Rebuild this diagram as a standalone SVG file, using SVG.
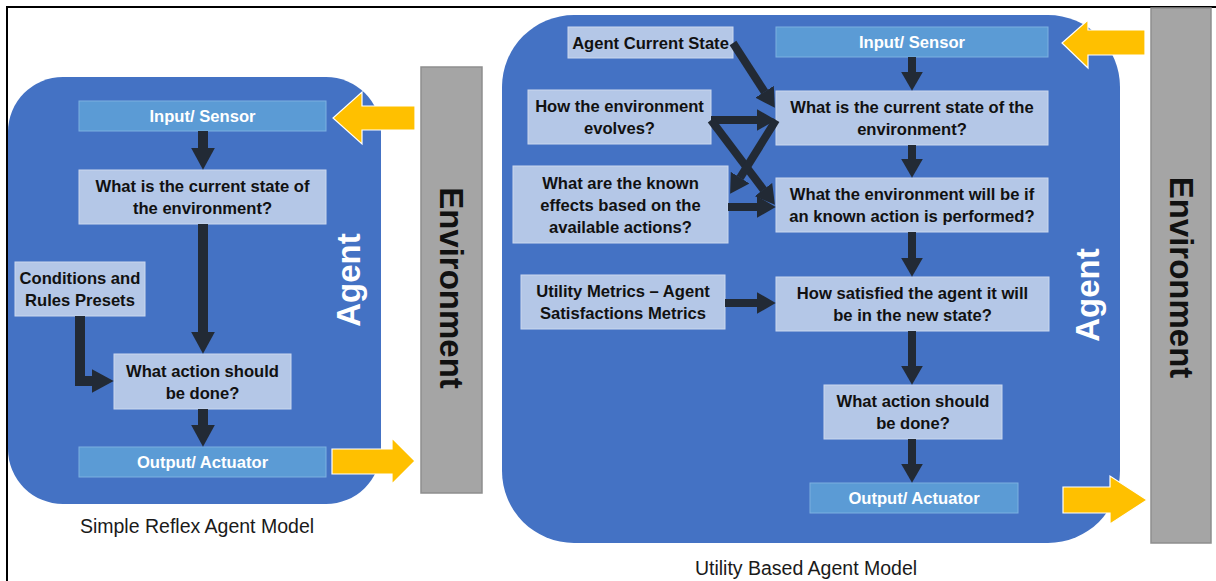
<svg xmlns="http://www.w3.org/2000/svg" width="1216" height="581" viewBox="0 0 1216 581">
  <defs>
    <style>
      .panel { fill: #4472C4; }
      .io { fill: #5B9BD5; stroke: #7DB0E0; stroke-width: 1; }
      .step { fill: #B4C7E7; stroke: #CBD8EE; stroke-width: 1; }
      .env { fill: #A5A5A5; stroke: #8E8E8E; stroke-width: 1.5; }
      .io-text { font-family: "Liberation Sans", Arial, sans-serif; font-weight: bold; font-size: 16.6px; fill: #FFFFFF; text-anchor: middle; }
      .step-text { font-family: "Liberation Sans", Arial, sans-serif; font-weight: bold; font-size: 16.6px; fill: #111111; text-anchor: middle; }
      .agent-text { font-family: "Liberation Sans", Arial, sans-serif; font-weight: bold; font-size: 33px; fill: #FFFFFF; text-anchor: middle; }
      .env-text { font-family: "Liberation Sans", Arial, sans-serif; font-weight: bold; font-size: 33px; fill: #111111; text-anchor: middle; }
      .caption { font-family: "Liberation Sans", Arial, sans-serif; font-size: 19.5px; fill: #1A1A1A; text-anchor: middle; }
      .flow-l { fill: none; stroke: #222A35; stroke-width: 10; stroke-linejoin: miter; marker-end: url(#headL); }
      .flow-r { fill: none; stroke: #222A35; stroke-width: 8; stroke-linejoin: miter; marker-end: url(#headR); }
      .signal { fill: #FFC000; stroke: #FFFFFF; stroke-width: 1.2; }
      .frame { fill: none; stroke: #000000; stroke-width: 2; }
    </style>
    <marker id="headL" markerUnits="userSpaceOnUse" viewBox="0 0 22 24" markerWidth="22" markerHeight="24" refX="0.3" refY="12" orient="auto">
      <path d="M0,0 L22,12 L0,24 z" fill="#222A35"/>
    </marker>
    <marker id="headR" markerUnits="userSpaceOnUse" viewBox="0 0 19 22" markerWidth="19" markerHeight="22" refX="0.3" refY="11" orient="auto">
      <path d="M0,0 L19,11 L0,22 z" fill="#222A35"/>
    </marker>
  </defs>

  <rect width="1216" height="581" fill="#FFFFFF"/>

  <!-- outer frame: top and left edges only -->
  <path class="frame" d="M7,581 V7 H1216"/>

  <!-- ===== Simple reflex agent ===== -->
  <g id="simple-agent">
    <rect class="panel" x="8" y="77" width="373" height="427" rx="55" ry="55"/>
    <text class="agent-text" transform="translate(348,280) rotate(-90)" y="11.8">Agent</text>
  </g>

  <g id="simple-environment">
    <rect class="env" x="421" y="67" width="61" height="426"/>
    <text class="env-text" transform="translate(452,288) rotate(90)" y="11.8">Environment</text>
  </g>

  <g id="simple-input">
    <rect class="io" x="79" y="101" width="247" height="30"/>
    <text class="io-text" x="202.5" y="122">Input/ Sensor</text>
  </g>

  <g id="simple-state">
    <rect class="step" x="79" y="170" width="247" height="54"/>
    <text class="step-text" x="202.5" y="192">What is the current state of</text>
    <text class="step-text" x="202.5" y="214">the environment?</text>
  </g>

  <g id="simple-rules">
    <rect class="step" x="15" y="262" width="130" height="54"/>
    <text class="step-text" x="80" y="284">Conditions and</text>
    <text class="step-text" x="80" y="306">Rules Presets</text>
  </g>

  <g id="simple-action">
    <rect class="step" x="114" y="354" width="177" height="55"/>
    <text class="step-text" x="202.5" y="376.5">What action should</text>
    <text class="step-text" x="202.5" y="398.5">be done?</text>
  </g>

  <g id="simple-output">
    <rect class="io" x="79" y="447" width="247" height="30"/>
    <text class="io-text" x="202.5" y="468">Output/ Actuator</text>
  </g>

  <g id="simple-caption">
    <text class="caption" x="197" y="533">Simple Reflex Agent Model</text>
  </g>

  <!-- ===== Utility based agent ===== -->
  <g id="utility-agent">
    <rect class="panel" x="502" y="15" width="618" height="528" rx="72" ry="72"/>
    <text class="agent-text" transform="translate(1087,295) rotate(-90)" y="11.8">Agent</text>
  </g>

  <g id="utility-environment">
    <rect class="env" x="1151" y="8" width="60" height="535"/>
    <text class="env-text" transform="translate(1181.5,277.5) rotate(90)" y="11.8">Environment</text>
  </g>

  <g id="utility-current">
    <rect class="step" x="568" y="27" width="165" height="31"/>
    <text class="step-text" x="650.5" y="48.5">Agent Current State</text>
  </g>

  <g id="utility-input">
    <rect class="io" x="776" y="27" width="272" height="30"/>
    <text class="io-text" x="912" y="48">Input/ Sensor</text>
  </g>

  <g id="utility-evolves">
    <rect class="step" x="528" y="90" width="183" height="54"/>
    <text class="step-text" x="619.5" y="112">How the environment</text>
    <text class="step-text" x="619.5" y="134">evolves?</text>
  </g>

  <g id="utility-state">
    <rect class="step" x="776" y="91" width="272" height="54"/>
    <text class="step-text" x="912" y="113">What is the current state of the</text>
    <text class="step-text" x="912" y="135">environment?</text>
  </g>

  <g id="utility-effects">
    <rect class="step" x="513" y="166" width="215" height="77"/>
    <text class="step-text" x="620.5" y="188.5">What are the known</text>
    <text class="step-text" x="620.5" y="210.5">effects based on the</text>
    <text class="step-text" x="620.5" y="232.5">available actions?</text>
  </g>

  <g id="utility-prediction">
    <rect class="step" x="776" y="178" width="272" height="54"/>
    <text class="step-text" x="912" y="200">What the environment will be if</text>
    <text class="step-text" x="912" y="222">an known action is performed?</text>
  </g>

  <g id="utility-metrics">
    <rect class="step" x="521" y="275" width="204" height="54"/>
    <text class="step-text" x="623" y="297">Utility Metrics – Agent</text>
    <text class="step-text" x="623" y="319">Satisfactions Metrics</text>
  </g>

  <g id="utility-satisfaction">
    <rect class="step" x="776" y="277" width="273" height="54"/>
    <text class="step-text" x="912.5" y="299">How satisfied the agent it will</text>
    <text class="step-text" x="912.5" y="321">be in the new state?</text>
  </g>

  <g id="utility-action">
    <rect class="step" x="824" y="385" width="178" height="54"/>
    <text class="step-text" x="913" y="407">What action should</text>
    <text class="step-text" x="913" y="429">be done?</text>
  </g>

  <g id="utility-output">
    <rect class="io" x="810" y="483" width="208" height="30"/>
    <text class="io-text" x="914" y="504">Output/ Actuator</text>
  </g>

  <g id="utility-caption">
    <text class="caption" x="806" y="575">Utility Based Agent Model</text>
  </g>

  <!-- ===== Connectors ===== -->
  <g id="connectors">
    <!-- simple reflex flow -->
    <path class="flow-l" d="M203,131 V148"/>
    <path class="flow-l" d="M203,224 V332"/>
    <path class="flow-l" d="M203,409 V425"/>
    <path class="flow-l" d="M80,316 V381 H92"/>

    <!-- utility flow -->
    <path class="flow-r" d="M912,57 V72"/>
    <path class="flow-r" d="M912,145 V159"/>
    <path class="flow-r" d="M912,232 V258"/>
    <path class="flow-r" d="M912,331 V366"/>
    <path class="flow-r" d="M912,439 V464"/>
    <path class="flow-r" d="M725,303 H757"/>
    <path class="flow-r" d="M733,43 L764.7,92"/>
    <path class="flow-r" d="M711,120 H757"/>
    <path class="flow-r" d="M711,120 L763.6,189.8"/>
    <path class="flow-r" d="M776,120 L740,177.9"/>
    <path class="flow-r" d="M728,207 H757"/>

    <!-- environment signals -->
    <polygon class="signal" points="415,106 362,106 362,92 333,118 362,144 362,130 415,130"/>
    <polygon class="signal" points="332,449 392,449 392,438 415,461 392,484 392,474 332,474"/>
    <polygon class="signal" points="1145,30 1088,30 1088,20 1062,43 1088,68 1088,55 1145,55"/>
    <polygon class="signal" points="1063,487 1110,487 1110,476 1147,500 1110,524 1110,513 1063,513"/>
  </g>
</svg>
